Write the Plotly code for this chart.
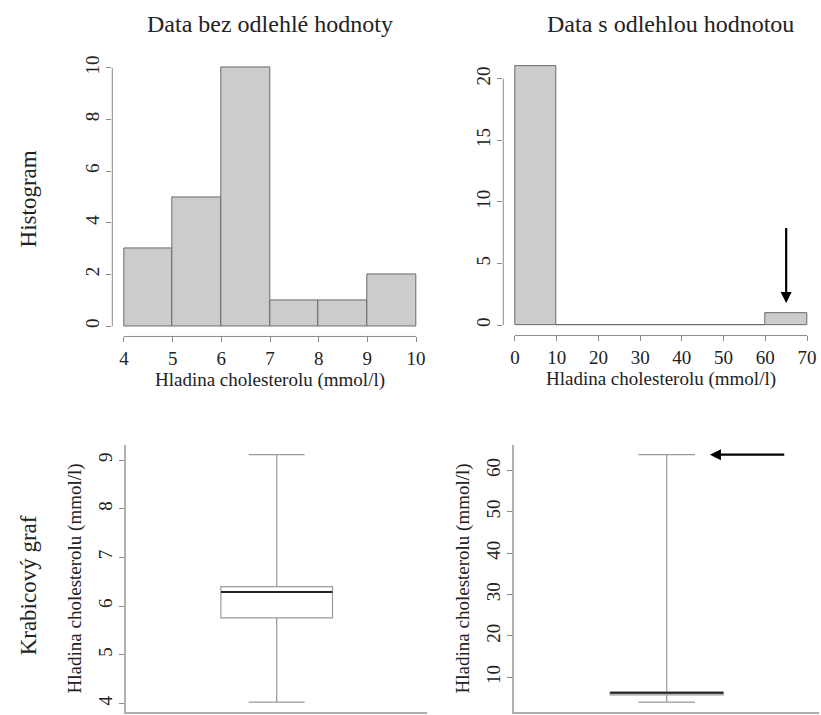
import plotly.graph_objects as go

# ---- data ----
bins_a_left = [4, 5, 6, 7, 8, 9]
counts_a = [3, 5, 10, 1, 1, 2]
bins_b_left = [0, 10, 20, 30, 40, 50, 60]
counts_b = [21, 0, 0, 0, 0, 0, 1]

# box plot statistics (mmol/l)
box_a = dict(low=4.03, q1=5.76, med=6.29, q3=6.40, high=9.11)
box_b = dict(low=4.03, q1=5.80, med=6.30, q3=6.45, high=63.8)

titles = ["Data bez odlehlé hodnoty", "Data s odlehlou hodnotou"]
row_labels = ["Histogram", "Krabicový graf"]
axis_label = "Hladina cholesterolu (mmol/l)"

W, H = 821, 715
FONT = "Liberation Serif, Times New Roman, serif"
TXT = "#222222"
AX = "#8a8a8a"

def xd(a, b):
    return [a / W, b / W]

def yd(top, bottom):
    return [1 - bottom / H, 1 - top / H]

fig = go.Figure()

# histograms
fig.add_trace(go.Bar(x=[b + 0.5 for b in bins_a_left], y=counts_a, width=1,
                     marker=dict(color="#cccccc", line=dict(color="#6a6a6a", width=1)),
                     xaxis="x", yaxis="y", showlegend=False))
fig.add_trace(go.Bar(x=[b + 5 for b in bins_b_left], y=counts_b, width=10,
                     marker=dict(color="#cccccc", line=dict(color="#6a6a6a", width=1)),
                     xaxis="x2", yaxis="y2", showlegend=False))

# box plots
for bx, xa, ya in [(box_a, "x3", "y3"), (box_b, "x4", "y4")]:
    fig.add_trace(go.Box(x=[1], q1=[bx["q1"]], median=[bx["med"]], q3=[bx["q3"]],
                         lowerfence=[bx["low"]], upperfence=[bx["high"]],
                         width=0.4, whiskerwidth=0.5, fillcolor="white",
                         line=dict(color="#9a9a9a", width=1.2),
                         xaxis=xa, yaxis=ya, showlegend=False, boxpoints=False))
    fig.add_trace(go.Scatter(x=[0.8, 1.2], y=[bx["med"], bx["med"]], mode="lines",
                             line=dict(color="#222222", width=2),
                             xaxis=xa, yaxis=ya, showlegend=False, hoverinfo="skip"))

tickfont = dict(family=FONT, size=19, color=TXT)
titlefont = dict(family=FONT, size=19, color=TXT)
common = dict(ticks="outside", ticklen=5, tickcolor=AX, tickwidth=1, showgrid=False,
              zeroline=False, tickfont=tickfont)

layout = dict(
    width=W, height=H, autosize=False,
    margin=dict(l=0, r=0, t=0, b=0),
    paper_bgcolor="white", plot_bgcolor="white",
    bargap=0,
    font=dict(family=FONT, color=TXT),
    xaxis=dict(domain=xd(112.3, 427.7), range=[3.76, 10.24], tickvals=[4, 5, 6, 7, 8, 9, 10],
               showline=False, anchor="y",
               title=dict(text=axis_label, font=titlefont, standoff=4),
               **common),
    yaxis=dict(domain=yd(55.6, 335.4), range=[-0.4, 10.4], tickvals=[0, 2, 4, 6, 8, 10],
               tickangle=-90, showline=False, anchor="x", **common),
    xaxis2=dict(domain=xd(503.3, 818.7), range=[-2.8, 72.8], tickvals=[0, 10, 20, 30, 40, 50, 60, 70],
                showline=False, anchor="y2",
                title=dict(text=axis_label, font=titlefont, standoff=4),
                **common),
    yaxis2=dict(domain=yd(54.3, 334.4), range=[-0.84, 21.84], tickvals=[0, 5, 10, 15, 20],
                tickangle=-90, showline=False, anchor="x2", **common),
    xaxis3=dict(domain=xd(126, 427.4), range=[0.46, 1.54], showticklabels=False, ticks="",
                showline=True, linecolor="#b0b0b0", linewidth=1.5, showgrid=False, zeroline=False,
                anchor="y3"),
    yaxis3=dict(domain=yd(444, 712), range=[3.827, 9.313], tickvals=[4, 5, 6, 7, 8, 9],
                tickangle=-90, showline=True, linecolor="#b0b0b0", linewidth=1.5, anchor="x3",
                title=dict(text=axis_label, font=titlefont, standoff=8),
                **common),
    xaxis4=dict(domain=xd(514, 819.4), range=[0.46, 1.54], showticklabels=False, ticks="",
                showline=True, linecolor="#b0b0b0", linewidth=1.5, showgrid=False, zeroline=False,
                anchor="y4"),
    yaxis4=dict(domain=yd(444, 712), range=[1.64, 66.19], tickvals=[10, 20, 30, 40, 50, 60],
                tickangle=-90, showline=True, linecolor="#b0b0b0", linewidth=1.5, anchor="x4",
                title=dict(text=axis_label, font=titlefont, standoff=8),
                **common),
)
fig.update_layout(**layout)

# R-style detached axis lines for histograms
shapes = []
for xa, ya, xt, yt in [("x", "y", [4, 10], [0, 10]), ("x2", "y2", [0, 70], [0, 20])]:
    shapes.append(dict(type="line", xref=xa, yref=ya + " domain", x0=xt[0], x1=xt[1], y0=0, y1=0,
                       line=dict(color=AX, width=1)))
    shapes.append(dict(type="line", xref=xa + " domain", yref=ya, x0=0, x1=0, y0=yt[0], y1=yt[1],
                       line=dict(color=AX, width=1)))
fig.update_layout(shapes=shapes)

ann = []
# column titles
for t, cx in zip(titles, [270, 670]):
    ann.append(dict(text=t, x=cx / W, y=1 - 22 / H, xref="paper", yref="paper", showarrow=False,
                    font=dict(family=FONT, size=24, color=TXT), xanchor="center", yanchor="middle"))
# row labels
for t, cy in zip(row_labels, [198, 585]):
    ann.append(dict(text=t, x=28 / W, y=1 - cy / H, xref="paper", yref="paper", showarrow=False,
                    textangle=-90, font=dict(family=FONT, size=23, color=TXT),
                    xanchor="center", yanchor="middle"))
# arrows pointing at the outlier
ann.append(dict(x=65, y=1.8, ax=65, ay=8, xref="x2", yref="y2", axref="x2", ayref="y2",
                text="", showarrow=True, arrowhead=2, arrowsize=1, arrowwidth=2.2, arrowcolor="black"))
ann.append(dict(x=1.153, y=box_b["high"], ax=1.421, ay=box_b["high"], xref="x4", yref="y4",
                axref="x4", ayref="y4", text="", showarrow=True, arrowhead=2, arrowsize=1,
                arrowwidth=2.2, arrowcolor="black"))
fig.update_layout(annotations=ann)

fig.write_html("out.html", config={"displayModeBar": False},
               post_script="document.body.style.margin='0';")
